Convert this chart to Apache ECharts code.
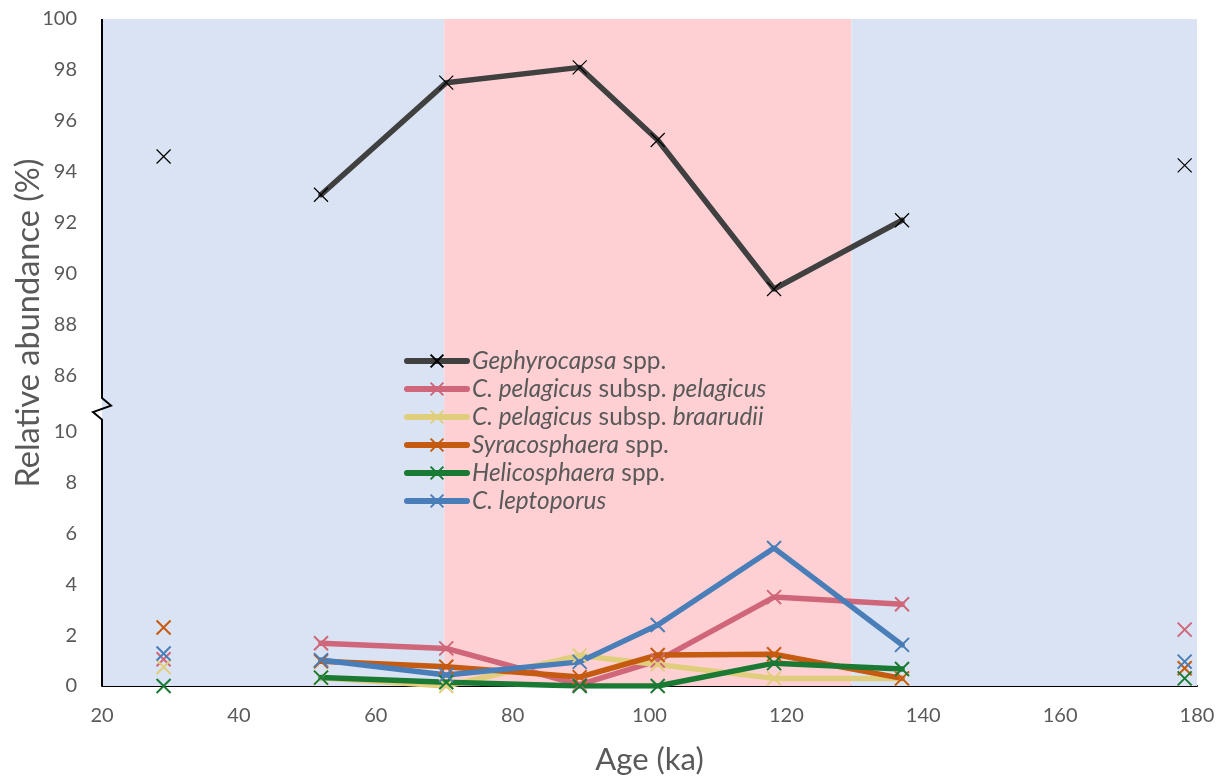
<!DOCTYPE html>
<html>
<head>
<meta charset="utf-8">
<script src="https://cdn.jsdelivr.net/npm/echarts@6/dist/echarts.min.js"></script>
<style>
  html, body { margin: 0; padding: 0; background: #ffffff; }
  #chart { width: 1225px; height: 778px; }
</style>
</head>
<body>
<div id="chart"></div>
<script>
// ---- data ----
const ages = [29, 52, 70.3, 89.8, 101.2, 118.2, 136.9, 178.2];
const gephyrocapsa = [94.6, 93.1, 97.5, 98.1, 95.25, 89.4, 92.1, 94.25];
const pelagicus = [1.05, 1.68, 1.48, 0.05, 1.0, 3.5, 3.22, 2.22];
const braarudii = [0.75, 0.32, 0.0, 1.2, 0.85, 0.3, 0.3, null];
const syracosphaera = [2.3, 0.97, 0.76, 0.35, 1.22, 1.25, 0.3, 0.7];
const helicosphaera = [0.0, 0.33, 0.15, 0.0, 0.0, 0.9, 0.67, 0.3];
const leptoporus = [1.28, 1.02, 0.43, 0.95, 2.4, 5.43, 1.62, 0.96];
// samples that are joined by a line (first and last are isolated)
const joinedFrom = 1, joinedTo = 6;

const seriesNames = ['Gephyrocapsa spp.', 'C. pelagicus subsp. pelagicus', 'C. pelagicus subsp. braarudii',
  'Syracosphaera spp.', 'Helicosphaera spp.', 'C. leptoporus'];
const legendRich = {
  'Gephyrocapsa spp.': '{i|Gephyrocapsa} {n|spp.}',
  'C. pelagicus subsp. pelagicus': '{i|C. pelagicus} {n|subsp.} {i|pelagicus}',
  'C. pelagicus subsp. braarudii': '{i|C. pelagicus} {n|subsp.} {i|braarudii}',
  'Syracosphaera spp.': '{i|Syracosphaera} {n|spp.}',
  'Helicosphaera spp.': '{i|Helicosphaera} {n|spp.}',
  'C. leptoporus': '{i|C. leptoporus}'
};
const xTicks = [20, 40, 60, 80, 100, 120, 140, 160, 180];
const lowerTicks = [0, 2, 4, 6, 8, 10];
const upperTicks = [86, 88, 90, 92, 94, 96, 98, 100];
// background periods (ka)
const bands = [[20, 70, 'glacial'], [70, 129.5, 'interglacial'], [129.5, 180, 'glacial']];

// ---- styling ----
const FONT = 'Lato';
const TXT = '#595959';
const bandColors = { glacial: '#DAE3F3', interglacial: '#FFD0D3' };
const colors = ['#404040', '#CF6679', '#E0CE7C', '#C55A11', '#1A7A34', '#4A7EB8'];
const X_SYMBOL = 'path://M0,0L10,10M10,0L0,10';

function buildData(vals) {
  const out = [];
  vals.forEach((v, i) => {
    if (v === null) return;
    out.push([ages[i], v]);
    if (i === joinedFrom - 1 || i === joinedTo) out.push([ages[i], '-']);
  });
  return out;
}

function bandArea() {
  return {
    silent: true,
    itemStyle: { opacity: 1 },
    label: { show: false },
    data: bands.map(b => [
      { xAxis: b[0], itemStyle: { color: bandColors[b[2]] } },
      { xAxis: b[1] }
    ])
  };
}

const lowerVals = [pelagicus, braarudii, syracosphaera, helicosphaera, leptoporus];

const series = [];
series.push({
  name: seriesNames[0], type: 'line', xAxisIndex: 0, yAxisIndex: 0,
  data: buildData(gephyrocapsa),
  connectNulls: false,
  symbol: X_SYMBOL, symbolSize: 14,
  lineStyle: { color: colors[0], width: 5.5, cap: 'round', join: 'round' },
  itemStyle: { color: '#000000', borderColor: '#000000', borderWidth: 1.2 },
  markArea: bandArea(),
  animation: false
});
lowerVals.forEach((vals, k) => {
  const c = colors[k + 1];
  const s = {
    name: seriesNames[k + 1], type: 'line', xAxisIndex: 1, yAxisIndex: 1,
    data: buildData(vals),
    connectNulls: false,
    symbol: X_SYMBOL, symbolSize: 14,
    lineStyle: { color: c, width: 5.5, cap: 'round', join: 'round' },
    itemStyle: { color: c, borderColor: c, borderWidth: 2 },
    animation: false
  };
  if (k === 0) s.markArea = bandArea();
  series.push(s);
});

const chart = echarts.init(document.getElementById('chart'), null, { renderer: 'canvas' });

const axisLabelStyle = { color: TXT, fontSize: 20, fontFamily: FONT };

const option = {
  animation: false,
  backgroundColor: '#ffffff',
  grid: [
    { left: 102, right: 28, top: 19, height: 407.5 },
    { left: 102, right: 28, top: 406.6, bottom: 92 }
  ],
  xAxis: [
    { type: 'value', gridIndex: 0, min: 20, max: 180, interval: 20, show: false },
    {
      type: 'value', gridIndex: 1, min: 20, max: 180, interval: 20,
      axisLine: { show: true, lineStyle: { color: '#000000', width: 2 } },
      axisTick: { show: false }, splitLine: { show: false },
      axisLabel: Object.assign({ margin: 20, formatter: v => xTicks.includes(v) ? String(v) : '' }, axisLabelStyle),
      name: 'Age (ka)', nameLocation: 'middle', nameGap: 58,
      nameTextStyle: { color: TXT, fontSize: 31, fontFamily: FONT }
    }
  ],
  yAxis: [
    {
      type: 'value', gridIndex: 0, min: 84, max: 100, interval: 2,
      axisLine: { show: false }, axisTick: { show: false }, splitLine: { show: false },
      axisLabel: Object.assign({ margin: 25, formatter: v => upperTicks.includes(v) ? String(v) : '' }, axisLabelStyle)
    },
    {
      type: 'value', gridIndex: 1, min: 0, max: 11, interval: 2,
      axisLine: { show: false }, axisTick: { show: false }, splitLine: { show: false },
      axisLabel: Object.assign({ margin: 25, formatter: v => lowerTicks.includes(v) ? String(v) : '' }, axisLabelStyle)
    }
  ],
  legend: {
    data: seriesNames,
    orient: 'vertical',
    left: 399, top: 344,
    itemWidth: 60, itemHeight: 16, itemGap: 4,
    lineStyle: { width: 6, cap: 'round' },
    formatter: name => legendRich[name],
    textStyle: {
      color: TXT, fontSize: 24.4, fontFamily: FONT,
      rich: {
        i: { fontStyle: 'italic', color: TXT, fontSize: 24.4, fontFamily: FONT },
        n: { fontStyle: 'normal', color: TXT, fontSize: 24.4, fontFamily: FONT }
      }
    }
  },
  series: series
};

chart.setOption(option);

// y-axis line with a break (zig-zag) between the two panels
const topPt = chart.convertToPixel({ gridIndex: 0 }, [20, 100]);
const botPt = chart.convertToPixel({ gridIndex: 1 }, [20, 0]);
const brkPt = chart.convertToPixel({ gridIndex: 1 }, [20, 11]);
const x0 = topPt[0], yb = brkPt[1];
chart.setOption({
  graphic: [
    {
      type: 'polyline', z: 100,
      shape: { points: [[x0, topPt[1]], [x0, yb - 8.5], [x0 + 9, yb - 1], [x0 - 9, yb + 5.5], [x0, yb + 13], [x0, botPt[1]]] },
      style: { stroke: '#000000', lineWidth: 2, fill: null }
    },
    {
      type: 'text', z: 100,
      x: 29, y: 323, rotation: Math.PI / 2,
      style: { text: 'Relative abundance (%)', fill: TXT, fontSize: 32.5, fontFamily: FONT, align: 'center', verticalAlign: 'middle' }
    }
  ]
});
</script>
</body>
</html>
